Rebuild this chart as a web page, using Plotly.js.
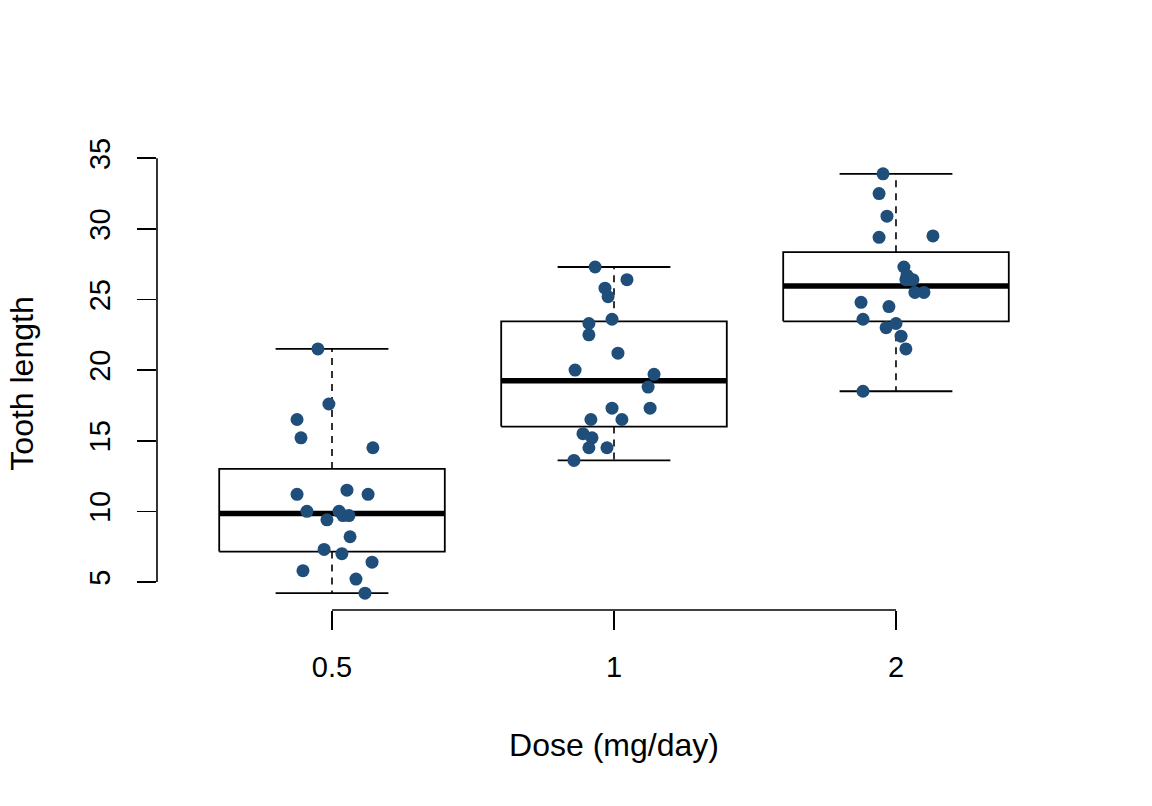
<!DOCTYPE html>
<html>
<head>
<meta charset="utf-8">
<script src="https://cdn.plot.ly/plotly-3.0.1.min.js"></script>
<style>
  html, body { margin: 0; padding: 0; background: #ffffff; }
  #chart { width: 1152px; height: 806px; }
</style>
</head>
<body>
<div id="chart"></div>
<script>
// Tooth length by vitamin C dose (guinea pigs), with jittered observations
const doseLabels = ['0.5', '1', '2'];
const yTicks = [5, 10, 15, 20, 25, 30, 35];

const len05 = [21.5, 17.6, 16.5, 15.2, 14.5, 11.5, 11.2, 11.2, 10.0, 10.0,
               9.7, 9.7, 9.4, 8.2, 7.3, 7.0, 6.4, 5.8, 5.2, 4.2];
const jit05 = [-0.050, -0.011, -0.124, -0.110, 0.145, 0.053, -0.124, 0.128, -0.089, 0.025,
               0.039, 0.060, -0.018, 0.064, -0.028, 0.035, 0.142, -0.103, 0.085, 0.117];

const len1 = [27.3, 26.4, 25.8, 25.2, 23.6, 23.3, 22.5, 21.2, 20.0, 19.7,
              18.8, 17.3, 17.3, 16.5, 16.5, 15.5, 15.2, 14.5, 14.5, 13.6];
const jit1 = [-0.067, 0.046, -0.032, -0.021, -0.007, -0.089, -0.089, 0.014, -0.138, 0.142,
              0.121, -0.007, 0.128, -0.082, 0.028, -0.110, -0.078, -0.089, -0.025, -0.142];

const len2 = [33.9, 32.5, 30.9, 29.5, 29.4, 27.3, 26.7, 26.4, 26.4, 26.4,
              25.5, 25.5, 24.8, 24.5, 23.6, 23.3, 23.0, 22.4, 21.5, 18.5];
const jit2 = [-0.046, -0.060, -0.032, 0.131, -0.060, 0.028, 0.039, 0.035, 0.053, 0.060,
              0.067, 0.099, -0.124, -0.025, -0.117, 0.000, -0.035, 0.018, 0.035, -0.117];

const groups = [
  { values: len05, jitter: jit05 },
  { values: len1,  jitter: jit1 },
  { values: len2,  jitter: jit2 }
];

const FONT = 'Liberation Sans, Arial, Helvetica, sans-serif';
const POINT_COLOR = '#1f4e7a';
const BOX_HALF = 0.4;
const CAP_HALF = 0.2;

// Tukey five-number summary (hinges)
function fivenum(arr) {
  const s = arr.slice().sort((a, b) => a - b);
  const n = s.length;
  const n4 = Math.floor((n + 3) / 2) / 2;
  const d = [1, n4, (n + 1) / 2, n + 1 - n4, n];
  return d.map(v => 0.5 * (s[Math.floor(v) - 1] + s[Math.ceil(v) - 1]));
}

function boxStats(arr) {
  const f = fivenum(arr);
  const iqr = f[3] - f[1];
  const lo = Math.min(...arr.filter(v => v >= f[1] - 1.5 * iqr));
  const hi = Math.max(...arr.filter(v => v <= f[3] + 1.5 * iqr));
  return { q1: f[1], med: f[2], q3: f[3], lo: lo, hi: hi };
}

const traces = [];
groups.forEach((g, i) => {
  const c = i + 1;
  const st = boxStats(g.values);
  // dashed whiskers
  traces.push({
    type: 'scatter', mode: 'lines', hoverinfo: 'skip', showlegend: false,
    x: [c, c, null, c, c],
    y: [st.q3, st.hi, null, st.q1, st.lo],
    line: { color: '#000', width: 1.6, dash: '7px,6px' }
  });
  // whisker caps
  traces.push({
    type: 'scatter', mode: 'lines', hoverinfo: 'skip', showlegend: false,
    x: [c - CAP_HALF, c + CAP_HALF, null, c - CAP_HALF, c + CAP_HALF],
    y: [st.hi, st.hi, null, st.lo, st.lo],
    line: { color: '#000', width: 1.8 }
  });
  // box
  traces.push({
    type: 'scatter', mode: 'lines', hoverinfo: 'skip', showlegend: false,
    x: [c - BOX_HALF, c + BOX_HALF, c + BOX_HALF, c - BOX_HALF, c - BOX_HALF],
    y: [st.q1, st.q1, st.q3, st.q3, st.q1],
    fill: 'toself', fillcolor: '#ffffff',
    line: { color: '#000', width: 1.8 }
  });
  // median
  traces.push({
    type: 'scatter', mode: 'lines', hoverinfo: 'skip', showlegend: false,
    x: [c - BOX_HALF, c + BOX_HALF],
    y: [st.med, st.med],
    line: { color: '#000', width: 5.5 }
  });
});

// jittered observations on top
groups.forEach((g, i) => {
  traces.push({
    type: 'scatter', mode: 'markers', hoverinfo: 'y', showlegend: false,
    x: g.values.map((v, k) => i + 1 + g.jitter[k]),
    y: g.values,
    marker: { color: POINT_COLOR, size: 13, line: { width: 0 } }
  });
});

// y range: data range extended by 4% on each side
const allVals = len05.concat(len1, len2);
const yMin = Math.min(...allVals), yMax = Math.max(...allVals);
const pad = 0.04 * (yMax - yMin);

const layout = {
  width: 1152, height: 806,
  margin: { l: 157, r: 81, t: 157, b: 196 },
  paper_bgcolor: '#ffffff', plot_bgcolor: '#ffffff',
  font: { family: FONT, color: '#000', size: 29 },
  showlegend: false,
  xaxis: {
    range: [0.3794, 3.6206],
    tickmode: 'array', tickvals: [1, 2, 3], ticktext: doseLabels,
    ticks: 'outside', ticklen: 19, tickwidth: 1.6, tickcolor: '#000',
    tickfont: { family: FONT, size: 29, color: '#000' },
    ticklabelstandoff: 12,
    showgrid: false, zeroline: false, showline: false,
    title: { text: 'Dose (mg/day)', font: { family: FONT, size: 32, color: '#000' }, standoff: 51 },
    fixedrange: true
  },
  yaxis: {
    range: [yMin - pad, yMax + pad],
    tickmode: 'array', tickvals: yTicks,
    tickangle: -90,
    ticks: 'outside', ticklen: 19, tickwidth: 1.6, tickcolor: '#000',
    tickfont: { family: FONT, size: 29, color: '#000' },
    ticklabelstandoff: 15,
    showgrid: false, zeroline: false, showline: false,
    title: { text: 'Tooth length', font: { family: FONT, size: 32, color: '#000' }, standoff: 41 },
    fixedrange: true
  },
  shapes: [
    { type: 'line', xref: 'x', yref: 'paper', x0: 1, x1: 3, y0: 0, y1: 0,
      line: { color: '#000', width: 1.6 } },
    { type: 'line', xref: 'paper', yref: 'y', x0: 0, x1: 0, y0: yTicks[0], y1: yTicks[yTicks.length - 1],
      line: { color: '#000', width: 1.6 } }
  ]
};

Plotly.newPlot('chart', traces, layout, { displayModeBar: false, staticPlot: true });
</script>
</body>
</html>
